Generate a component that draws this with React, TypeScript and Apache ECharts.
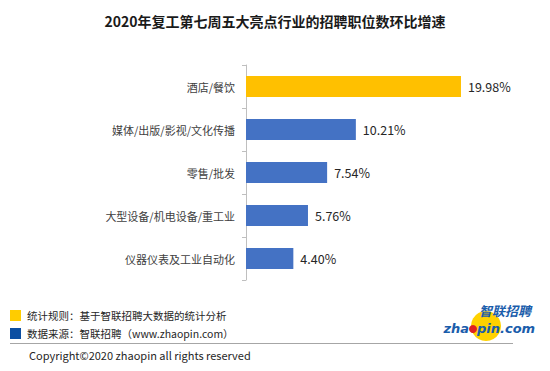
import React, { useEffect, useRef } from "react";
import * as echarts from "echarts";

const titleText = "2020年复工第七周五大亮点行业的招聘职位数环比增速";
const categories = [
  "酒店/餐饮",
  "媒体/出版/影视/文化传播",
  "零售/批发",
  "大型设备/机电设备/重工业",
  "仪器仪表及工业自动化",
];
const values = [19.98, 10.21, 7.54, 5.76, 4.4];
const barColors = ["#FFC000", "#4472C4", "#4472C4", "#4472C4", "#4472C4"];
const noteLines = [
  "统计规则：基于智联招聘大数据的统计分析",
  "数据来源：智联招聘（www.zhaopin.com）",
];
const noteColors = ["#FFCC00", "#0B4EA2"];
const copyright = "Copyright©2020 zhaopin all rights reserved";

const FONT = "'Noto Sans CJK SC', 'Noto Sans', sans-serif";

export default function App() {
  const ref = useRef<HTMLDivElement>(null);
  useEffect(() => {
    if (!ref.current) return;
    const chart = echarts.init(ref.current, undefined, { renderer: "svg" });
    chart.setOption({
      animation: false,
      backgroundColor: "#ffffff",
      textStyle: { fontFamily: FONT },
      title: {
        text: titleText,
        left: "center",
        top: 9,
        textStyle: { fontSize: 14, fontWeight: "bold", color: "#1a1a1a", fontFamily: FONT },
      },
      grid: { left: 246, top: 65, height: 215, width: 269 },
      xAxis: {
        type: "value",
        min: 0,
        max: 25,
        show: false,
      },
      yAxis: {
        type: "category",
        inverse: true,
        data: categories,
        axisLine: { show: true, lineStyle: { color: "#BFBFBF", width: 1 } },
        axisTick: { show: true, length: 4, lineStyle: { color: "#BFBFBF" } },
        axisLabel: { margin: 11, fontSize: 11, color: "#404040", fontFamily: FONT },
        splitLine: { show: false },
      },
      series: [
        {
          type: "bar",
          barWidth: 21,
          data: values.map((v, i) => ({ value: v, itemStyle: { color: barColors[i] } })),
          label: {
            show: true,
            position: "right",
            distance: 7,
            fontSize: 12.5,
            color: "#262626",
            fontFamily: FONT,
            formatter: (p: any) => Number(p.value).toFixed(2) + "%",
          },
        },
      ],
      graphic: [
        ...noteLines.map((t, i) => ({
          type: "rect",
          shape: { x: 10, y: 310 + i * 18, width: 11, height: 11 },
          style: { fill: noteColors[i] },
        })),
        ...noteLines.map((t, i) => ({
          type: "text",
          x: 27,
          y: 315 + i * 18,
          style: {
            text: t,
            fontSize: 10.5,
            fill: "#262626",
            fontFamily: FONT,
            verticalAlign: "middle",
          },
        })),
        {
          type: "line",
          shape: { x1: 10, y1: 343.5, x2: 513, y2: 343.5 },
          style: { stroke: "#A6A6A6", lineWidth: 1 },
        },
        {
          type: "text",
          x: 29,
          y: 355,
          style: {
            text: copyright,
            fontSize: 11,
            fill: "#262626",
            fontFamily: FONT,
            verticalAlign: "middle",
          },
        },
        {
          type: "circle",
          shape: { cx: 486, cy: 326, r: 15 },
          style: { fill: "#FFD200" },
        },
        {
          type: "text",
          x: 505,
          y: 310,
          style: {
            text: "智联招聘",
            fontSize: 13,
            lineHeight: 13,
            fontWeight: "bold",
            fontStyle: "italic",
            fill: "#1A5DAB",
            fontFamily: FONT,
            align: "center",
            verticalAlign: "middle",
          },
        },
        {
          type: "text",
          x: 469,
          y: 328,
          style: {
            text: "zha",
            fontSize: 13,
            lineHeight: 13,
            fontWeight: "bold",
            fontStyle: "italic",
            fill: "#1A5DAB",
            fontFamily: "'DejaVu Sans', sans-serif",
            align: "right",
            verticalAlign: "middle",
          },
        },
        {
          type: "circle",
          shape: { cx: 473, cy: 329, r: 4 },
          style: { fill: "#E02020" },
        },
        {
          type: "text",
          x: 477,
          y: 328,
          style: {
            text: "pin.com",
            fontSize: 13,
            lineHeight: 13,
            fontWeight: "bold",
            fontStyle: "italic",
            fill: "#1A5DAB",
            fontFamily: "'DejaVu Sans', sans-serif",
            align: "left",
            verticalAlign: "middle",
          },
        },
      ],
    });
    return () => chart.dispose();
  }, []);
  return (
    <div
      ref={ref}
      style={{ position: "fixed", left: 0, top: 0, width: 550, height: 371 }}
    />
  );
}
